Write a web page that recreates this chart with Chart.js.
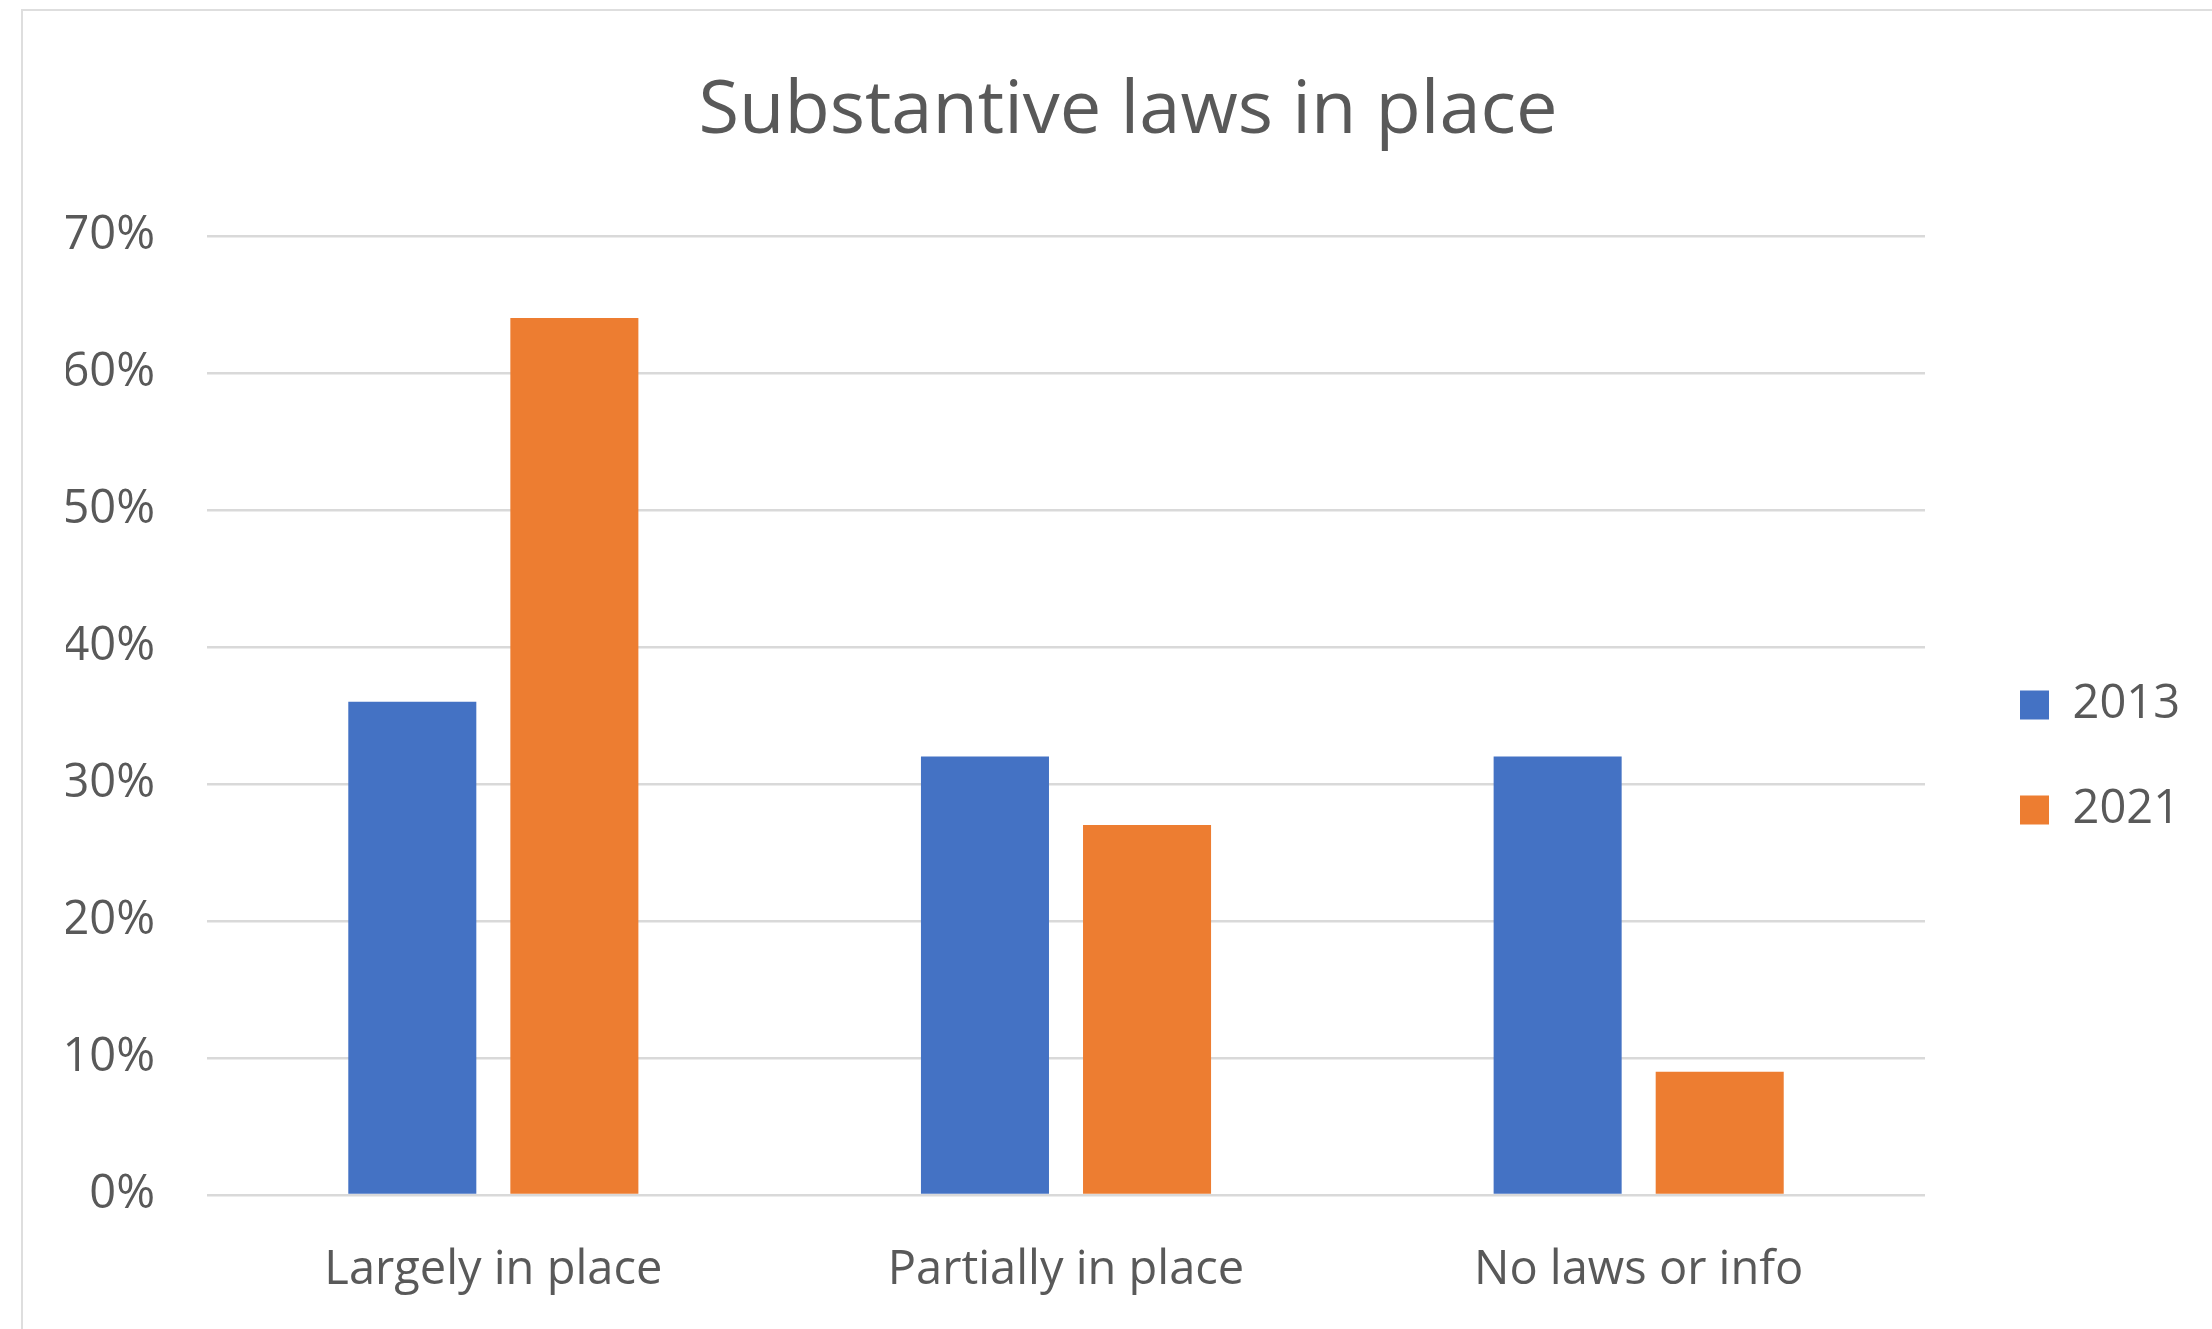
<!DOCTYPE html>
<html>
<head>
<meta charset="utf-8">
<script src="https://cdn.jsdelivr.net/npm/chart.js@4"></script>
<style>
  html, body { margin: 0; padding: 0; background: #ffffff; overflow: hidden; }
  #wrap { position: relative; width: 2212px; height: 1329px; overflow: hidden; }
  #frame { position: absolute; left: 21px; top: 9px; width: 2400px; height: 1400px;
           border: 2px solid #dedede; box-sizing: border-box; pointer-events: none; }
  canvas { position: absolute; left: 0; top: 0; }
</style>
</head>
<body>
<div id="wrap">
  <canvas id="chart" width="2256" height="1329"></canvas>
  <div id="frame"></div>
</div>
<script>
// Share of countries by status of substantive laws
const categories = ['Largely in place', 'Partially in place', 'No laws or info'];
const seriesNames = ['2013', '2021'];
const values2013 = [36, 32, 32];
const values2021 = [64, 27, 9];
const yTicks = [0, 10, 20, 30, 40, 50, 60, 70];

const textColor = '#595959';
const fontFamily = '"Open Sans", "Noto Sans", sans-serif';

new Chart(document.getElementById('chart'), {
  type: 'bar',
  data: {
    labels: categories,
    datasets: [
      { label: seriesNames[0], data: values2013, backgroundColor: '#4472C4', yAxisID: 'y',
        categoryPercentage: 0.566, barPercentage: 0.79 },
      { label: seriesNames[1], data: values2021, backgroundColor: '#ED7D31', yAxisID: 'y',
        categoryPercentage: 0.566, barPercentage: 0.79 }
    ]
  },
  options: {
    responsive: false,
    animation: false,
    events: [],
    layout: { padding: { top: 0, left: 66, right: 66, bottom: 28 } },
    plugins: {
      title: {
        display: true,
        text: 'Substantive laws in place',
        color: textColor,
        font: { family: fontFamily, size: 74, weight: 'normal' },
        padding: { top: 68, bottom: 79 }
      },
      legend: {
        position: 'right',
        fullSize: false,
        maxWidth: 230,
        title: { display: true, text: '', padding: 35 },
        labels: {
          color: textColor,
          font: { family: fontFamily, size: 47 },
          boxWidth: 29,
          boxHeight: 29,
          padding: 58
        }
      },
      tooltip: { enabled: false }
    },
    scales: {
      x: {
        afterFit: (scale) => { scale.height = 106; },
        grid: { display: false, drawTicks: false },
        border: { display: false },
        ticks: { color: textColor, font: { family: fontFamily, size: 47 }, padding: 47 }
      },
      y: {
        min: yTicks[0],
        max: yTicks[yTicks.length - 1],
        afterBuildTicks: (scale) => { scale.ticks = yTicks.map(v => ({ value: v })); },
        afterFit: (scale) => { scale.width = 141; },
        grid: { color: '#d9d9d9', lineWidth: 2.5, drawTicks: false },
        border: { display: false },
        ticks: {
          color: textColor,
          font: { family: fontFamily, size: 47 },
          padding: 52,
          callback: (v) => v + '%'
        }
      },
      yGap: {
        position: 'right',
        afterFit: (scale) => { scale.width = 37; },
        grid: { display: false, drawTicks: false },
        border: { display: false },
        ticks: { display: false }
      }
    }
  }
});
</script>
</body>
</html>
